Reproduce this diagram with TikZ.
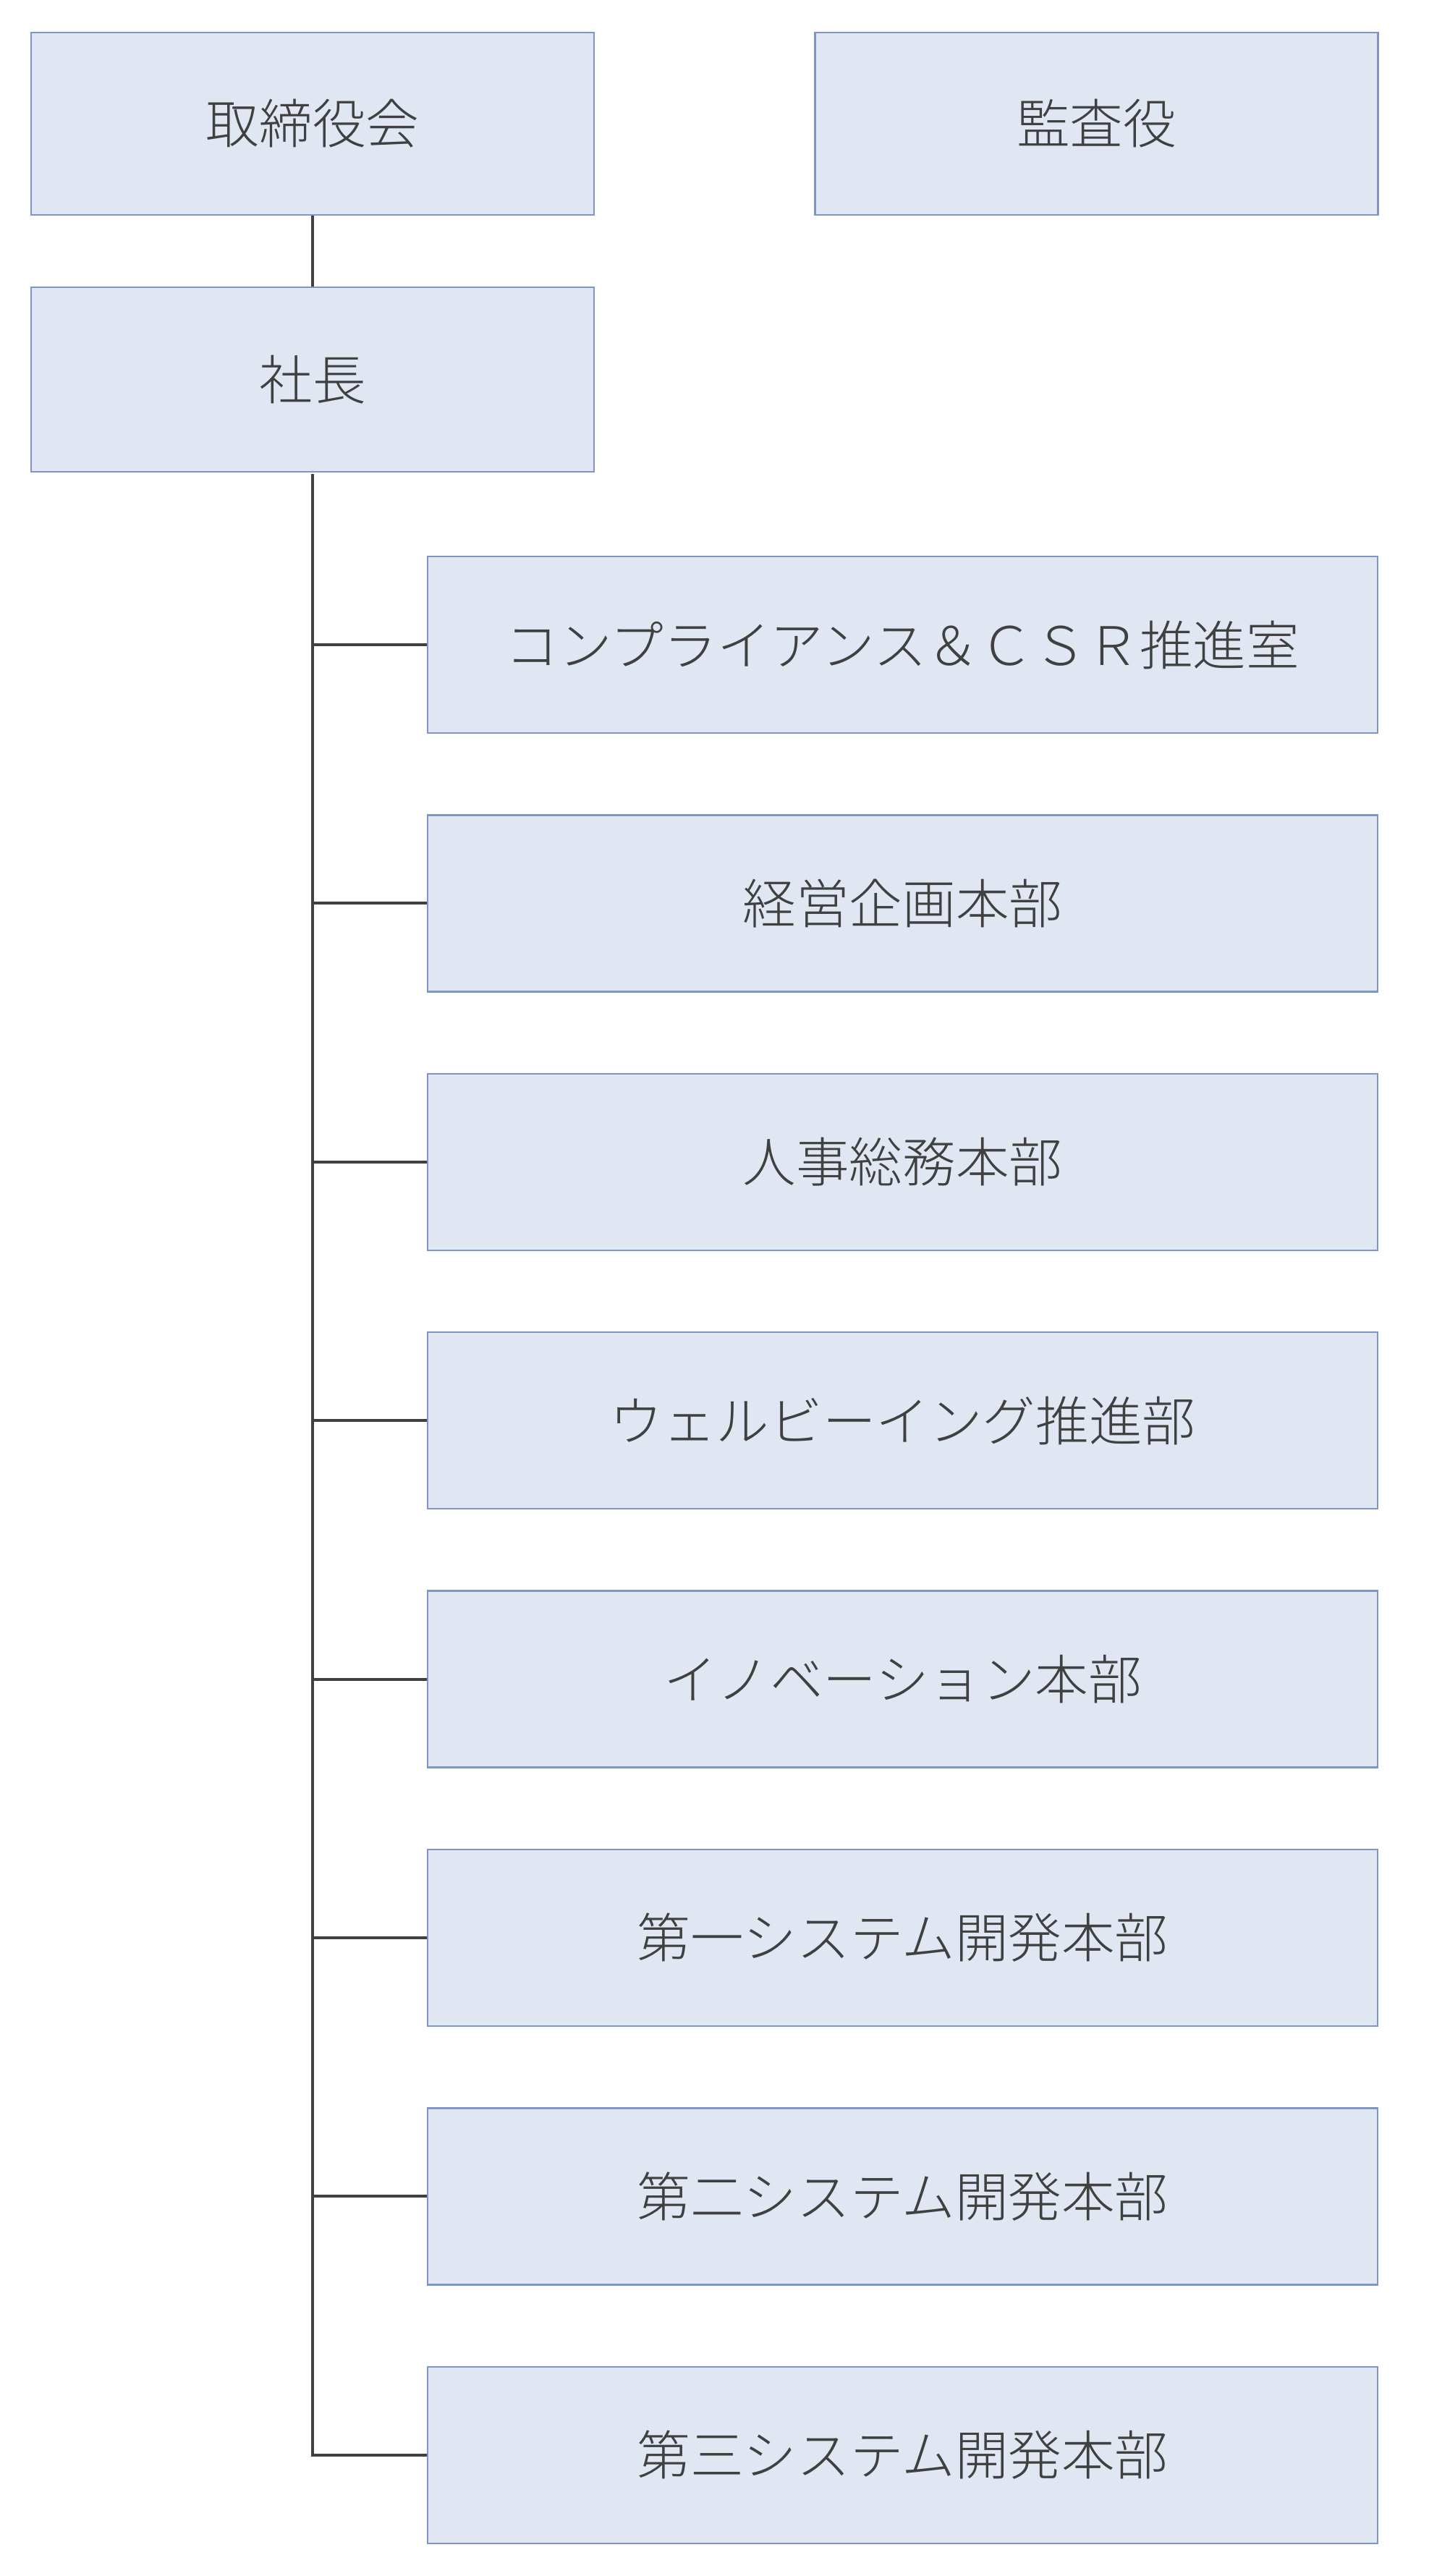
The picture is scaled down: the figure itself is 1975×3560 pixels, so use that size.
\documentclass[tikz,border=0pt]{standalone}
\usepackage{fontspec}
\setmainfont{Noto Sans CJK JP}[UprightFont = * Light]
\definecolor{boxfill}{HTML}{E0E6F2}
\definecolor{boxline}{HTML}{7F96C4}
\definecolor{ink}{HTML}{404040}
\tikzset{
  orgbox/.style={draw=boxline, fill=boxfill, line width=1.15pt, inner sep=0pt,
    text=ink, font=\fontsize{36.8}{44}\selectfont, anchor=center},
  topbox/.style={orgbox, minimum width=389pt, minimum height=126pt},
  deptbox/.style={orgbox, minimum width=656.5pt, minimum height=122pt},
  link/.style={draw=ink, line width=2pt}
}
\begin{document}
\begin{tikzpicture}[x=0.5pt, y=-0.5pt]
\useasboundingbox (0,0) rectangle (1975,3560);
\node[topbox] (board) at (432,171) {取締役会};
\node[topbox] (audit) at (1515.5,171) {監査役};
\node[topbox, minimum height=127.5pt] (pres) at (432,524.5) {社長};
\node[deptbox] (d1) at (1247.5,891) {コンプライアンス＆ＣＳＲ推進室};
\node[deptbox] (d2) at (1247.5,1248.4) {経営企画本部};
\node[deptbox] (d3) at (1247.5,1605.8) {人事総務本部};
\node[deptbox] (d4) at (1247.5,1963.2) {ウェルビーイング推進部};
\node[deptbox] (d5) at (1247.5,2320.6) {イノベーション本部};
\node[deptbox] (d6) at (1247.5,2678) {第一システム開発本部};
\node[deptbox] (d7) at (1247.5,3035.4) {第二システム開発本部};
\node[deptbox] (d8) at (1247.5,3392.8) {第三システム開発本部};
\coordinate (trunktop) at (432,657);
\coordinate (trunkend) at (432,3392.8);
\draw[link] (board.south) -- (pres.north);
\draw[link, line cap=rect] (trunktop) -- (trunkend);
\foreach \d in {d1,d2,d3,d4,d5,d6,d7,d8}{
  \draw[link] (trunktop |- \d.west) -- (\d.west);
}
\end{tikzpicture}
\end{document}
